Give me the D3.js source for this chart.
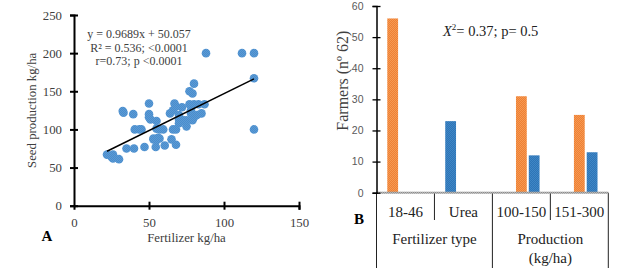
<!DOCTYPE html>
<html>
<head>
<meta charset="utf-8">
<script src="https://cdn.jsdelivr.net/npm/d3@7"></script>
<style>
  body { margin: 0; background: #fff; }
  svg { display: block; }
</style>
</head>
<body>
<div id="chart"></div>
<script>
// Panel A: fertilizer vs seed production (one point per farmer)
const fertilizer = [22, 26, 26, 30, 25, 35, 40, 47, 32.5, 33, 39.5, 40.5, 43.5, 45,
  50, 50, 50, 51, 55, 55, 57, 59.5, 53, 56, 57, 53, 55, 54.5, 60.5, 65, 68,
  64, 66, 67, 68, 70, 72, 66, 68, 70, 73, 75, 77, 80, 83, 87, 78, 82, 85,
  79, 80, 75, 80, 77, 79, 88, 112, 120, 120, 120, 70, 78]
const seedProduction = [67, 67, 62, 61, 64, 75, 75, 77, 124, 122, 120, 100, 100, 100,
  134, 120, 116, 113, 111, 101, 100, 100, 88, 89, 88, 87, 86, 77, 79, 87, 80,
  121, 125, 134, 130, 119, 129, 100, 100, 108, 112, 112, 133, 133, 133, 133, 121, 119, 121,
  112, 116, 104, 160, 150, 147, 200, 200, 200, 167, 100, 113, 125]
// regression reported in the figure
const fitSlope = 0.9689
const fitIntercept = 50.057
const fitRange = [22, 120]
const fitLabels = ['y = 0.9689x + 50.057', 'R\u00b2 = 0.536; <0.0001', 'r=0.73; p <0.0001']
const xTicksA = [0, 50, 100, 150]
const yTicksA = [0, 50, 100, 150, 200, 250]

// Panel B: farmers per category
const categories = ['18-46', 'Urea', '100-150', '151-300']
const groupLabels = [['Fertilizer type'], ['Production', '(kg/ha)']]
const slots = ['first', 'second', 'third']
const firstSeries = [56, 23, null, null]   // 18-46 orange, Urea blue
const secondSeries = [null, null, 31, 25] // orange
const thirdSeries = [null, null, 12, 13]  // blue
const yTicksB = [0, 10, 20, 30, 40, 50, 60]

const width = 627
const height = 268
const serif = "'Liberation Serif', 'Times New Roman', serif"
const sans = "'Liberation Sans', Arial, sans-serif"

const svg = d3.select('#chart').append('svg')
  .attr('width', width)
  .attr('height', height)

// dithered fills like the original raster
const defs = svg.append('defs')
function dither(id, a, b) {
  const p = defs.append('pattern').attr('id', id)
    .attr('width', 2).attr('height', 2).attr('patternUnits', 'userSpaceOnUse')
  p.append('rect').attr('width', 2).attr('height', 2).attr('fill', a)
  p.append('rect').attr('width', 1).attr('height', 1).attr('fill', b)
  p.append('rect').attr('x', 1).attr('y', 1).attr('width', 1).attr('height', 1).attr('fill', b)
}
dither('dotBlue', '#5b9bd5', '#4a8ccc')
dither('barOrange', '#ef7f34', '#f59a52')
dither('barBlue', '#2e75b6', '#3f86c6')
dither('baseGray', '#8c8c8c', '#b8b8b8')

// ---------- Panel A ----------
const xA = d3.scaleLinear().domain([0, 150]).range([74, 299])
const yA = d3.scaleLinear().domain([0, 250]).range([205.7, 15])

const gA = svg.append('g')

gA.append('g')
  .attr('transform', `translate(0,${yA(0)})`)
  .call(d3.axisBottom(xA).tickValues(xTicksA).tickSize(4).tickPadding(8))
  .call(g => {
    g.select('.domain').attr('stroke', '#000').attr('stroke-width', 2)
    g.selectAll('.tick line').attr('y1', -4).attr('y2', 4).attr('stroke', '#000').attr('stroke-width', 2)
    g.selectAll('.tick').filter(d => d === 0).select('line').remove()
    g.selectAll('.tick text').attr('font-family', serif).attr('font-size', 12.8).attr('fill', '#404040')
  })

gA.append('g')
  .attr('transform', `translate(${xA(0)},0)`)
  .call(d3.axisLeft(yA).tickValues(yTicksA).tickSize(4).tickPadding(8))
  .call(g => {
    g.select('.domain').attr('stroke', '#000').attr('stroke-width', 2)
    g.selectAll('.tick line').attr('x1', -4).attr('x2', 4).attr('stroke', '#000').attr('stroke-width', 2)
    g.selectAll('.tick text').attr('font-family', serif).attr('font-size', 12.8).attr('fill', '#404040')
  })

gA.selectAll('.dot')
  .data(d3.zip(fertilizer, seedProduction))
  .join('circle')
  .attr('class', 'dot')
  .attr('cx', d => xA(d[0]))
  .attr('cy', d => yA(d[1]))
  .attr('r', 4.3)
  .attr('fill', 'url(#dotBlue)')

gA.append('line')
  .attr('x1', xA(fitRange[0]))
  .attr('y1', yA(fitSlope * fitRange[0] + fitIntercept))
  .attr('x2', xA(fitRange[1]))
  .attr('y2', yA(fitSlope * fitRange[1] + fitIntercept))
  .attr('stroke', '#000')
  .attr('stroke-width', 1.5)

gA.selectAll('.fit-label')
  .data(fitLabels)
  .join('text')
  .attr('class', 'fit-label')
  .attr('x', 139)
  .attr('y', (d, i) => 38 + i * 13.5)
  .attr('text-anchor', 'middle')
  .attr('font-family', serif)
  .attr('font-size', 12)
  .attr('fill', '#404040')
  .text(d => d)

gA.append('text')
  .attr('x', xA(75))
  .attr('y', 242)
  .attr('text-anchor', 'middle')
  .attr('font-family', serif)
  .attr('font-size', 12.8)
  .attr('fill', '#404040')
  .text('Fertilizer kg/ha')

gA.append('text')
  .attr('transform', `translate(36,${yA(125)}) rotate(-90)`)
  .attr('text-anchor', 'middle')
  .attr('font-family', serif)
  .attr('font-size', 12.8)
  .attr('fill', '#404040')
  .text('Seed production kg/ha')

gA.append('text')
  .attr('x', 47)
  .attr('y', 241)
  .attr('text-anchor', 'middle')
  .attr('font-family', serif)
  .attr('font-weight', 'bold')
  .attr('font-size', 15)
  .text('A')

// ---------- Panel B ----------
const xB = d3.scaleBand().domain(categories).range([376.5, 608.3])
const xInner = d3.scaleBand().domain(slots).range([0, xB.bandwidth()])
  .paddingInner(0.156).paddingOuter(0.843)
const yB = d3.scaleLinear().domain([0, 60]).range([192.7, 6])

const gB = svg.append('g')

const bars = []
const seriesList = [firstSeries, secondSeries, thirdSeries]
seriesList.forEach((vals, s) => {
  vals.forEach((v, i) => {
    if (v == null) return
    // first series uses a colour per category, the other two one colour each
    const fill = s === 0 ? (i === 0 ? 'url(#barOrange)' : 'url(#barBlue)')
      : s === 1 ? 'url(#barOrange)' : 'url(#barBlue)'
    bars.push({ cat: categories[i], slot: slots[s], value: v, fill })
  })
})

gB.selectAll('.bar')
  .data(bars)
  .join('rect')
  .attr('class', 'bar')
  .attr('x', d => xB(d.cat) + xInner(d.slot))
  .attr('width', xInner.bandwidth())
  .attr('y', d => yB(d.value))
  .attr('height', d => yB(0) - yB(d.value))
  .attr('fill', d => d.fill)

// category dividers: long at group edges, short between categories
const edges = categories.map(c => xB(c)).concat([xB.range()[1]])
gB.selectAll('.divider')
  .data(edges.slice(1))
  .join('line')
  .attr('class', 'divider')
  .attr('x1', d => d).attr('x2', d => d)
  .attr('y1', yB(0))
  .attr('y2', (d, i) => (i % 2 === 0 ? 220 : height))
  .attr('stroke', '#222')
  .attr('stroke-width', 1)

gB.append('line')
  .attr('x1', xB.range()[0]).attr('x2', xB.range()[0])
  .attr('y1', yB(0)).attr('y2', height)
  .attr('stroke', '#222')
  .attr('stroke-width', 1)

// baseline
gB.append('rect')
  .attr('x', xB.range()[0])
  .attr('y', yB(0) - 1)
  .attr('width', xB.range()[1] - xB.range()[0])
  .attr('height', 2)
  .attr('fill', 'url(#baseGray)')

gB.append('g')
  .attr('transform', `translate(${xB.range()[0]},0)`)
  .call(d3.axisLeft(yB).tickValues(yTicksB).tickSize(4).tickPadding(9))
  .call(g => {
    g.select('.domain').attr('stroke', '#000').attr('stroke-width', 1.5)
    g.selectAll('.tick line').attr('x1', -4).attr('x2', 4).attr('stroke', '#000').attr('stroke-width', 1.3)
    g.selectAll('.tick text').attr('font-family', sans).attr('font-size', 10.5).attr('fill', '#595959')
  })

gB.selectAll('.cat-label')
  .data(categories)
  .join('text')
  .attr('class', 'cat-label')
  .attr('x', d => xB(d) + xB.bandwidth() / 2)
  .attr('y', 216.5)
  .attr('text-anchor', 'middle')
  .attr('font-family', serif)
  .attr('font-size', 15)
  .attr('fill', '#222')
  .text(d => d)

groupLabels.forEach((lines, gi) => {
  const cx = xB(categories[gi * 2 + 1])
  lines.forEach((t, li) => {
    gB.append('text')
      .attr('x', cx)
      .attr('y', 244 + li * 18.5)
      .attr('text-anchor', 'middle')
      .attr('font-family', serif)
      .attr('font-size', 15)
      .attr('fill', '#222')
      .text(t)
  })
})

gB.append('text')
  .attr('transform', `translate(348,${yB(36)}) rotate(-90)`)
  .attr('text-anchor', 'middle')
  .attr('font-family', serif)
  .attr('font-size', 16)
  .attr('fill', '#404040')
  .text('Farmers (n\u00ba 62)')

const chi = gB.append('text')
  .attr('x', 443)
  .attr('y', 36)
  .attr('font-family', serif)
  .attr('font-size', 14.5)
  .attr('fill', '#222')
chi.append('tspan').attr('font-style', 'italic').text('X')
chi.append('tspan').attr('font-size', 9).attr('dy', -6).text('2')
chi.append('tspan').attr('dy', 6).text('= 0.37; p= 0.5')

gB.append('text')
  .attr('x', 359)
  .attr('y', 224)
  .attr('text-anchor', 'middle')
  .attr('font-family', serif)
  .attr('font-weight', 'bold')
  .attr('font-size', 15)
  .text('B')
</script>
</body>
</html>
